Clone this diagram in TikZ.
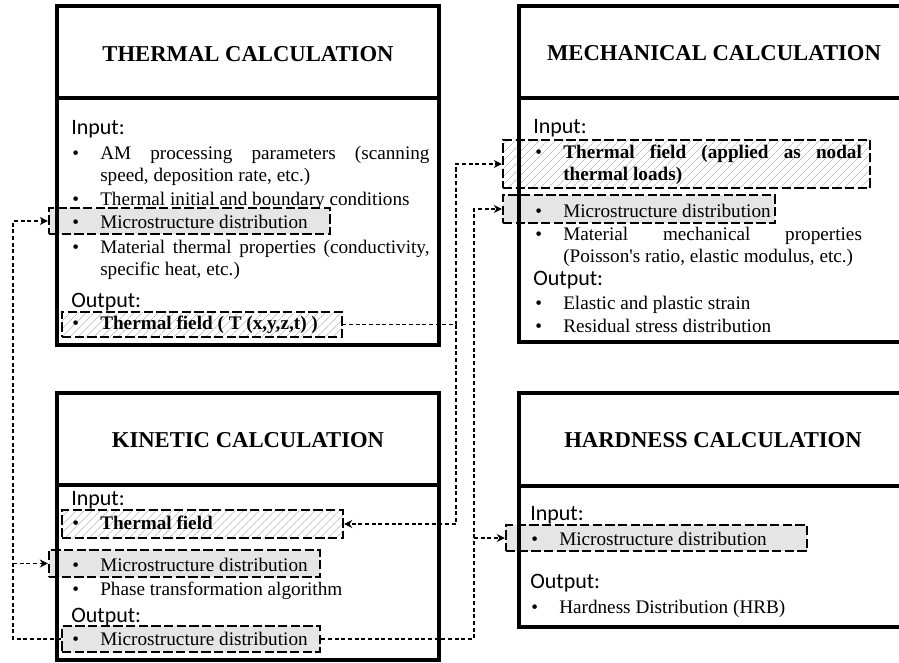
\documentclass[tikz,border=0pt]{standalone}
\usepackage{fontspec}
\setmainfont{Liberation Serif}
\newfontfamily\sansf{Carlito}
\usetikzlibrary{fit,arrows.meta,patterns.meta}
\newcommand{\bul}[1]{\hangindent=21pt\hangafter=1\makebox[21pt][l]{\textbullet}#1\par}

\begin{document}
\begin{tikzpicture}[x=0.75pt,y=-0.75pt,
  calcbox/.style={line width=3.4pt},
  head/.style={inner sep=0pt,font=\bfseries\fontsize{17}{20}\selectfont},
  lbl/.style={anchor=base west,inner sep=0pt,font=\sansf\fontsize{16.5}{18}\selectfont},
  itm/.style={anchor=base west,inner sep=0pt,text width=#1,align=justify,font=\fontsize{14.4}{16.5}\selectfont},
  itm/.default=268pt,
  micbox/.style={draw,line width=1.8pt,dash pattern=on 7pt off 2.5pt,fill=black!10,inner sep=0pt},
  fieldbox/.style={draw,line width=1.8pt,dash pattern=on 7pt off 2.5pt,pattern={Lines[angle=45,distance=4pt,line width=0.5pt]},pattern color=black!25,inner sep=0pt},
  flow/.style={line width=0.9pt,dash pattern=on 3pt off 2pt,-{Stealth[length=6pt,width=6pt]}}]
\useasboundingbox (0,0) rectangle (899,663);

% input / output boxes
\node[micbox,fit={(49,208) (330,234)}] (tmic) {};
\node[fieldbox,fit={(62,312) (342,337)}] (tfo) {};
\node[fieldbox,fit={(503,140) (870,188)}] (mtf) {};
\node[micbox,fit={(503,195) (775,223)}] (mmic) {};
\node[fieldbox,fit={(62,510) (343,538)}] (ktf) {};
\node[micbox,fit={(49,550) (320,577)}] (kmi) {};
\node[micbox,fit={(62,626) (320,652)}] (kmo) {};
\node[micbox,fit={(506,525) (807,551)}] (hmic) {};

% calculation frames
\draw[calcbox] (57,6) rectangle (439,345) (57,98) -- (439,98);
\draw[calcbox] (519,6) rectangle (912,342) (519,98) -- (912,98);
\draw[calcbox] (57,393) rectangle (439,660) (57,485) -- (439,485);
\draw[calcbox] (519,393) rectangle (912,627) (519,486) -- (912,486);

\node[head] (thermal) at (248,54) {THERMAL CALCULATION};
\node[head] (mech) at (714,53) {MECHANICAL CALCULATION};
\node[head] (kinetic) at (248,440) {KINETIC CALCULATION};
\node[head] (hard) at (713,440) {HARDNESS CALCULATION};

% thermal
\node[lbl] (tin) at (71,135) {Input:};
\node[itm] (t1) at (72,160) {\bul{AM processing parameters (scanning\linebreak speed, deposition rate, etc.)}};
\node[itm] (t2) at (72,205) {\bul{Thermal initial and boundary conditions}};
\node[itm] (t3) at (72,228) {\bul{Microstructure distribution}};
\node[itm] (t4) at (72,253) {\bul{Material thermal properties (conductivity,\linebreak specific heat, etc.)}};
\node[lbl] (tout) at (71,307) {Output:};
\node[itm] (t5) at (72,329) {\bul{\textbf{Thermal field ( T (x,y,z,t) )}}};

% mechanical
\node[lbl] (min) at (533,134) {Input:};
\node[itm=245pt] (m1) at (535,159) {\bul{\textbf{Thermal field (applied as nodal\linebreak thermal loads)}}};
\node[itm=245pt] (m2) at (535,217) {\bul{Microstructure distribution}};
\node[itm=245pt] (m3) at (535,240) {\bul{Material mechanical properties\linebreak (Poisson\textquotesingle s ratio, elastic modulus, etc.)}};
\node[lbl] (mout) at (533,285) {Output:};
\node[itm=245pt] (m4) at (535,309) {\bul{Elastic and plastic strain}};
\node[itm=245pt] (m5) at (535,332) {\bul{Residual stress distribution}};

% kinetic
\node[lbl] (kin) at (71,505) {Input:};
\node[itm] (k1) at (72,529) {\bul{\textbf{Thermal field}}};
\node[itm] (k2) at (72,571) {\bul{Microstructure distribution}};
\node[itm] (k3) at (72,595) {\bul{Phase transformation algorithm}};
\node[lbl] (kout) at (71,622) {Output:};
\node[itm] (k4) at (72,645) {\bul{Microstructure distribution}};

% hardness
\node[lbl] (hin) at (530,520) {Input:};
\node[itm] (h1) at (531,545) {\bul{Microstructure distribution}};
\node[lbl] (hout) at (530,588) {Output:};
\node[itm] (h2) at (531,613) {\bul{Hardness Distribution (HRB)}};

\coordinate (lbus) at (13,0);
\coordinate (mbus) at (456,0);
\coordinate (rbus) at (474,0);
\draw[flow] (kmo.west) -- (kmo.west -| lbus) |- (tmic.west);
\draw[flow] (kmi.west -| lbus) -- (kmi.west);
\draw[flow] (tfo.east) -- (tfo.east -| mbus) |- (mtf.west);
\draw[flow] (tfo.east -| mbus) |- (ktf.east);
\draw[flow] (kmo.east) -- (kmo.east -| rbus) |- (mmic.west);
\draw[flow] (hmic.west -| rbus) -- (hmic.west);
\end{tikzpicture}
\end{document}
